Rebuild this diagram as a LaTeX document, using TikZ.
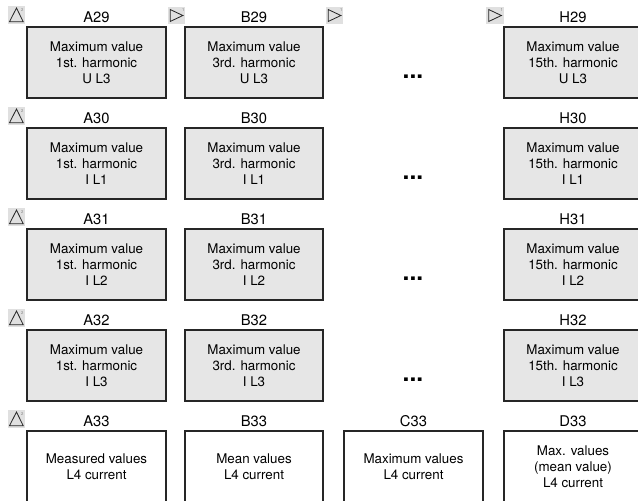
\documentclass[tikz,border=0pt]{standalone}
\usepackage{fontspec}
\setmainfont{TeX Gyre Heros}
\usetikzlibrary{positioning}
\definecolor{boxgray}{HTML}{E6E6E6}
\definecolor{icongray}{HTML}{E0E0E0}
\definecolor{linegray}{HTML}{262626}
\tikzset{
  cell/.style={draw=linegray, line width=1.6pt, minimum width=4.15cm, minimum height=2.15cm, align=center, font=\fontsize{11.4}{13.6}\selectfont},
  maxcell/.style={cell, fill=boxgray},
  addr/.style={inner sep=0pt, font=\fontsize{12.6}{14}\selectfont},
  icon/.style={fill=icongray, minimum size=0.53cm, inner sep=0pt},
  tri/.style={draw=linegray, line width=0.7pt, line join=miter},
  tick/.style={inner sep=0pt, text=gray, font=\fontsize{3.5}{3.5}\selectfont},
  more/.style={inner sep=0pt, font=\fontsize{21}{21}\selectfont\bfseries},
}
\begin{document}
\begin{tikzpicture}
\useasboundingbox (0,0) rectangle (19.14,-15);
% harmonic maxima, rows 29 to 32
\foreach \r/\y/\q in {29/1.875/U L3, 30/4.905/I L1, 31/7.935/I L2, 32/10.965/I L3} {
  \node[maxcell] (A\r) at (2.895,-\y) {Maximum value\\1st. harmonic\\\q};
  \node[maxcell] (B\r) at (7.62,-\y) {Maximum value\\3rd. harmonic\\\q};
  \node[maxcell] (H\r) at (17.19,-\y) {Maximum value\\15th. harmonic\\\q};
  \node[more] (dots\r) at (12.39,-\y-0.435) {...};
  \node[addr, above=0.08cm of A\r] (lA\r) {A\r};
  \node[addr, above=0.08cm of B\r] (lB\r) {B\r};
  \node[addr, above=0.08cm of H\r] (lH\r) {H\r};
  \node[icon] (tA\r) at (0.495,-\y+1.425) {};
  \draw[tri] (tA\r.center) ++(-0.21,-0.2) -- ++(0.41,0) -- ++(-0.2,0.41) -- cycle;
  \node[tick] at ([shift={(0.17,0.15)}]tA\r.center) {2};
}
% L4 current, row 33
\node[cell] (A33) at (2.895,-13.995) {Measured values\\L4 current};
\node[cell] (B33) at (7.62,-13.995) {Mean values\\L4 current};
\node[cell] (C33) at (12.405,-13.995) {Maximum values\\L4 current};
\node[cell] (D33) at (17.19,-13.995) {Max. values\\(mean value)\\L4 current};
\foreach \c in {A,B,C,D}
  \node[addr, above=0.08cm of \c33] (l\c33) {\c33};
\node[icon] (tA33) at (0.495,-12.57) {};
\draw[tri] (tA33.center) ++(-0.21,-0.2) -- ++(0.41,0) -- ++(-0.2,0.41) -- cycle;
\node[tick] at ([shift={(0.17,0.15)}]tA33.center) {2};
% step icons in row 29
\foreach \n/\x in {B/5.295, C/10.035, H/14.85} {
  \node[icon] (s\n) at (\x,-0.465) {};
  \draw[tri] (s\n.center) ++(-0.19,0.18) -- ++(0,-0.36) -- ++(0.38,0.18) -- cycle;
  \node[tick] at ([shift={(0.2,0.17)}]s\n.center) {1};
}
\end{tikzpicture}
\end{document}
